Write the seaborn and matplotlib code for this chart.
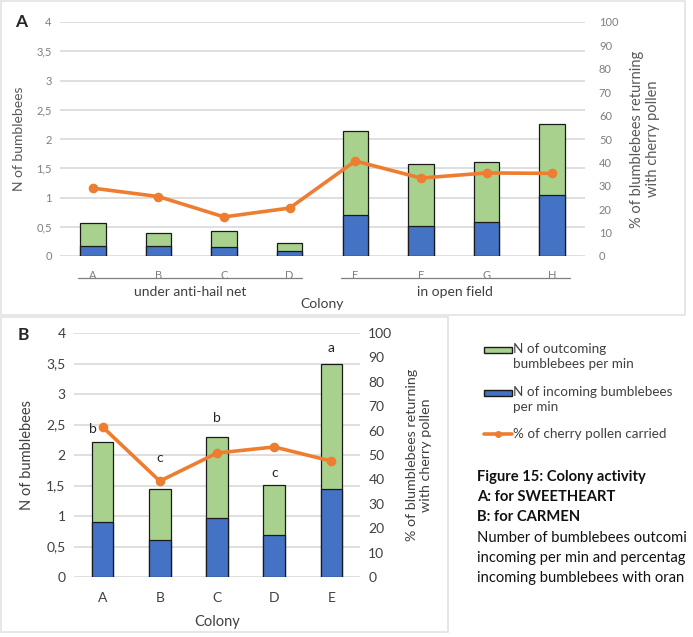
import numpy as np
import matplotlib
matplotlib.use("Agg")
import matplotlib.pyplot as plt
import matplotlib.transforms as mtransforms
from matplotlib.patches import Rectangle
from matplotlib.lines import Line2D
import seaborn as sns

# ---- data: panel A (SWEETHEART)
colonies_a = ['A', 'B', 'C', 'D', 'E', 'F', 'G', 'H']
total_a = [0.56, 0.39, 0.43, 0.23, 2.14, 1.57, 1.60, 2.25]
incoming_a = [0.17, 0.17, 0.16, 0.09, 0.70, 0.51, 0.58, 1.05]
pollen_a = [29.0, 25.4, 16.7, 20.5, 40.6, 33.3, 35.5, 35.3]
groups_a = ['under anti-hail net', 'in open field']

# ---- data: panel B (CARMEN)
colonies_b = ['A', 'B', 'C', 'D', 'E']
total_b = [2.21, 1.44, 2.30, 1.51, 3.49]
incoming_b = [0.90, 0.61, 0.97, 0.69, 1.44]
pollen_b = [61.5, 39.3, 50.8, 53.3, 47.5]
letters_b = ['b', 'c', 'b', 'c', 'a']
letters_y = [2.42, 1.95, 2.60, 1.70, 3.75]

green = '#A9D18E'
blue = '#4472C4'
orange = '#ED7D31'
grid_col = '#D9D9D9'

sns.set_style('white')
plt.rcParams['font.family'] = ['Lato', 'DejaVu Sans']

fig = plt.figure(figsize=(6.93, 6.37), dpi=100)
W, H = 693, 637


def fx(px):
    return px / W


def fy(py):
    return 1 - py / H


# panel frames
fig.patches.append(Rectangle((fx(1), fy(315)), fx(684), 314 / H, transform=fig.transFigure,
                             fill=False, edgecolor='#E3E3E3', linewidth=1.2))
fig.patches.append(Rectangle((fx(1), fy(632)), fx(447), 315 / H, transform=fig.transFigure,
                             fill=False, edgecolor='#E3E3E3', linewidth=1.2))


def draw_panel(ax, cats, total, incoming, pollen, width, tick_size, tick_col):
    sns.barplot(x=cats, y=total, color=green, saturation=1, width=width,
                edgecolor='#1a1a1a', linewidth=0.9, ax=ax, zorder=2)
    sns.barplot(x=cats, y=incoming, color=blue, saturation=1, width=width,
                edgecolor='#1a1a1a', linewidth=0.9, ax=ax, zorder=3)
    ax.set_ylim(0, 4)
    ax.set_yticks(np.arange(0, 4.01, 0.5))
    ax.set_yticklabels([f'{v:g}'.replace('.', ',') for v in np.arange(0, 4.01, 0.5)])
    ax.yaxis.grid(True, color=grid_col, linewidth=1.2, zorder=0)
    ax.set_axisbelow(True)
    sns.despine(ax=ax, left=True, bottom=True)
    ax.tick_params(axis='both', length=0, labelsize=tick_size, labelcolor=tick_col)

    ax2 = ax.twinx()
    sns.pointplot(x=cats, y=pollen, color=orange, ax=ax2, markers='o',
                  markersize=5, linewidth=2.6, zorder=5)
    ax2.set_ylim(0, 100)
    ax2.set_yticks(np.arange(0, 101, 10))
    sns.despine(ax=ax2, left=True, bottom=True, right=True)
    ax2.tick_params(axis='y', length=0, labelsize=tick_size, labelcolor=tick_col)
    ax2.set_xlim(-0.5, len(cats) - 0.5)
    ax.set_xlim(-0.5, len(cats) - 0.5)
    return ax2


# ---------------- panel A
axA = fig.add_axes([fx(60), fy(256), 525 / W, 234 / H])
axA2 = draw_panel(axA, colonies_a, total_a, incoming_a, pollen_a, 0.39, 8, '#7F7F7F')
axA.tick_params(axis='y', pad=6)
axA2.tick_params(axis='y', pad=10)
axA.set_ylabel('N of bumblebees', fontsize=10, color='#595959', labelpad=8)
axA2.set_ylabel('% of blumblebees returning\nwith cherry pollen', fontsize=10.5,
                color='#595959', labelpad=8, linespacing=1.25)
axA.tick_params(axis='x', pad=10)
axA.set_xlabel('')

trA = mtransforms.blended_transform_factory(axA.transData, axA.transAxes)
for (x0, x1), name in zip([(-0.22, 3.18), (3.78, 7.27)], groups_a):
    axA.plot([x0, x1], [-0.094, -0.094], color='#7F7F7F', linewidth=0.9,
             transform=trA, clip_on=False)
    axA.text((x0 + x1) / 2, -0.152, name, transform=trA, ha='center', va='center',
             fontsize=10, color='#404040')
axA.text(0.5, -0.203, 'Colony', transform=axA.transAxes, ha='center', va='center',
         fontsize=10, color='#404040')
fig.text(fx(15), fy(22), 'A', fontsize=12.5, fontweight='bold', va='center', ha='left')

# ---------------- panel B
axB = fig.add_axes([fx(74), fy(577), 286 / W, 244 / H])
axB2 = draw_panel(axB, colonies_b, total_b, incoming_b, pollen_b, 0.38, 10, '#404040')
axB.tick_params(axis='y', pad=6)
axB2.tick_params(axis='y', pad=6)
axB.set_ylabel('N of bumblebees', fontsize=10.5, color='#404040', labelpad=9)
axB2.set_ylabel('% of blumblebees returning\nwith cherry pollen', fontsize=10.3,
                color='#404040', labelpad=10, linespacing=1.15)
axB.set_xlabel('Colony', fontsize=10.5, color='#404040', labelpad=8)
axB.tick_params(axis='x', pad=11)
for i, (lt, ly) in enumerate(zip(letters_b, letters_y)):
    dx = -0.17 if i == 0 else 0
    axB.text(i + dx, ly, lt, ha='center', va='center', fontsize=10, color='#262626', zorder=6)
fig.text(fx(18), fy(335), 'B', fontsize=12.5, fontweight='bold', va='center', ha='left')

# ---------------- legend (drawn by hand to keep handles at the first text line)
leg_col = '#404040'
leg_fs = 9.7
fig.patches.append(Rectangle((fx(484), fy(353)), 28 / W, 6 / H, transform=fig.transFigure,
                             facecolor=green, edgecolor='#1a1a1a', linewidth=1.0))
fig.text(fx(513), fy(343), 'N of outcoming\nbumblebees per min', fontsize=leg_fs,
         color=leg_col, va='top', ha='left', linespacing=1.3)
fig.patches.append(Rectangle((fx(484), fy(396)), 28 / W, 6 / H, transform=fig.transFigure,
                             facecolor=blue, edgecolor='#1a1a1a', linewidth=1.0))
fig.text(fx(513), fy(386), 'N of incoming bumblebees\nper min', fontsize=leg_fs,
         color=leg_col, va='top', ha='left', linespacing=1.3)
fig.lines.append(Line2D([fx(484), fx(512)], [fy(434), fy(434)], transform=fig.transFigure,
                        color=orange, linewidth=2.6))
fig.lines.append(Line2D([fx(498)], [fy(434)], transform=fig.transFigure,
                        color=orange, marker='o', markersize=4))
fig.text(fx(513), fy(434), '% of cherry pollen carried', fontsize=leg_fs,
         color=leg_col, va='center', ha='left')

# ---------------- caption
cap_x = fx(477)
bold_lines = ['Figure 15: Colony activity', 'A: for SWEETHEART', 'B: for CARMEN']
norm_lines = ['Number of bumblebees outcomi',
              'incoming per min and percentag',
              'incoming bumblebees with oran']
for k, line in enumerate(bold_lines + norm_lines):
    fig.text(cap_x, fy(477 + 20.2 * k), line, fontsize=10.6,
             fontweight='bold' if k < 3 else 'normal', color='#111111', va='center', ha='left')

fig.savefig('out.png', dpi=100)
